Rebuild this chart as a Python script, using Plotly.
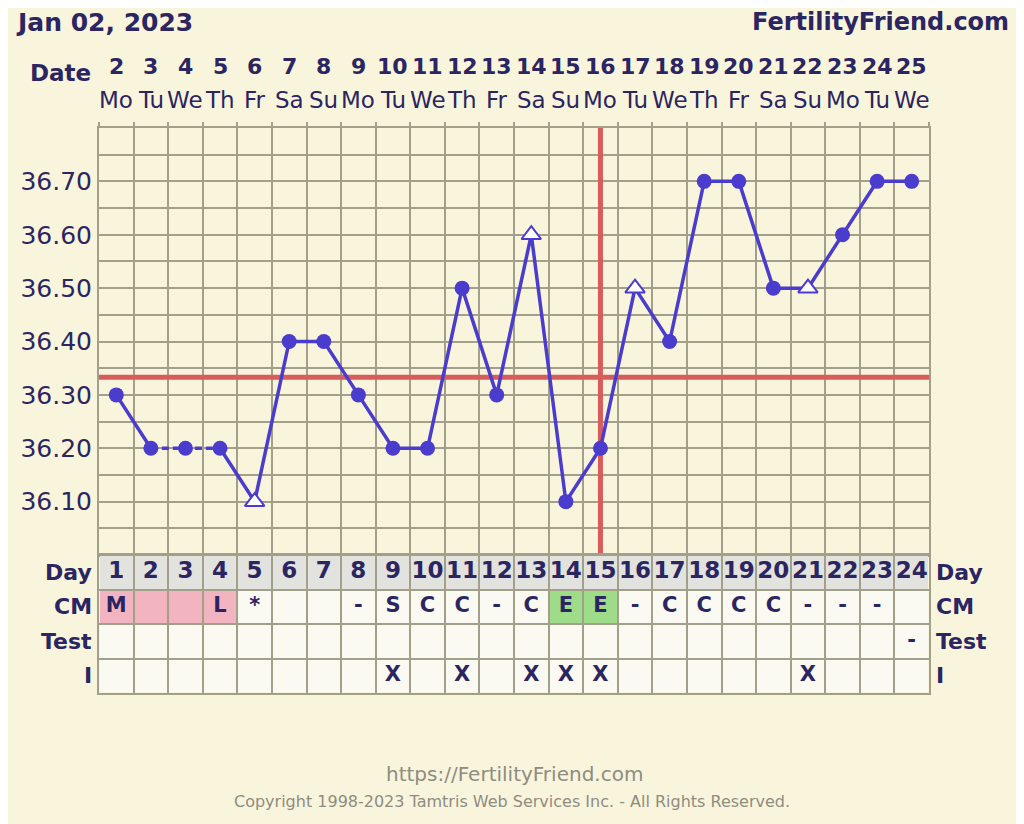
import plotly.graph_objects as go

# chart data
days = list(range(1, 25))
dates = [str(d) for d in range(2, 26)]
weekdays = ['Mo', 'Tu', 'We', 'Th', 'Fr', 'Sa', 'Su'] * 3 + ['Mo', 'Tu', 'We']
temps = [36.30, 36.20, 36.20, 36.20, 36.10, 36.40, 36.40, 36.30, 36.20, 36.20, 36.50, 36.30,
         36.60, 36.10, 36.20, 36.50, 36.40, 36.70, 36.70, 36.50, 36.50, 36.60, 36.70, 36.70]
open_days = [5, 13, 16, 21]          # discarded temps (open triangles)
dashed_days = [2, 3, 4]              # dashed connection
coverline = 36.333
ovulation_day = 15

cm = ['M', '', '', 'L', '*', '', '', '-', 'S', 'C', 'C', '-', 'C', 'E', 'E', '-',
      'C', 'C', 'C', 'C', '-', '-', '-', '']
test = [''] * 23 + ['-']
intercourse_days = [9, 11, 13, 14, 15, 21]
period_days = [1, 2, 3, 4]
eggwhite_days = [14, 15]

temp_ticks = [round(36.0 + 0.05 * i, 2) for i in range(17)]
temp_labels = ['%.2f' % t if (i % 2 == 0 and 0 < i < 16) else '' for i, t in enumerate(temp_ticks)]
row_labels = ['Day', 'CM', 'Test', 'I']

navy = '#2b2561'
blue = '#4a3ccc'
red = '#d95c5c'
grid = '#a29f8b'
bg = '#f9f5dd'
# the page body has an 8px margin, so the figure is a bit smaller and shifted
OFF = 8
W, H = 1024 - OFF, 824 - OFF

def px(pix):
    return (pix - OFF) / W

def py(pix):
    return 1 - (pix - OFF) / H

fig = go.Figure()

# table cell colours
cm_code = [2 if d in period_days else 3 if d in eggwhite_days else 0 for d in days]
z = [[1] * 24, cm_code, [0] * 24, [0] * 24]
fig.add_trace(go.Heatmap(
    x=days, y=[0.5, 1.5, 2.5, 3.5], z=z, xaxis='x2', yaxis='y2',
    zmin=0, zmax=3, showscale=False, xgap=2, ygap=2, hoverinfo='skip',
    colorscale=[[0, '#fbfaf2'], [0.3333, '#e2e2df'], [0.6667, '#f2b4c1'], [1, '#9fdc8a']]))

bold = dict(family='DejaVu Sans', size=23, color=navy, weight='bold')
cell = dict(bold, size=21)
fig.add_trace(go.Scatter(x=days, y=[0.5] * 24, text=[str(d) for d in days], mode='text',
                         textfont=bold, xaxis='x2', yaxis='y2', hoverinfo='skip'))
fig.add_trace(go.Scatter(x=days, y=[1.5] * 24, text=cm, mode='text',
                         textfont=cell, xaxis='x2', yaxis='y2', hoverinfo='skip'))
fig.add_trace(go.Scatter(x=days, y=[2.5] * 24, text=test, mode='text',
                         textfont=cell, xaxis='x2', yaxis='y2', hoverinfo='skip'))
fig.add_trace(go.Scatter(x=days, y=[3.5] * 24, text=['X' if d in intercourse_days else '' for d in days],
                         mode='text', textfont=cell, xaxis='x2', yaxis='y2', hoverinfo='skip'))

# coverline and ovulation line
fig.add_trace(go.Scatter(x=[0.5, 24.5], y=[coverline, coverline], mode='lines',
                         line=dict(color=red, width=5), cliponaxis=False, hoverinfo='skip'))
fig.add_trace(go.Scatter(x=[ovulation_day, ovulation_day], y=[36.0, 36.81], mode='lines',
                         line=dict(color=red, width=5), cliponaxis=False, hoverinfo='skip'))

# temperature line
solid_y = [None if (d in dashed_days[1:-1]) else t for d, t in zip(days, temps)]
fig.add_trace(go.Scatter(x=days, y=solid_y, mode='lines', line=dict(color=blue, width=3.5),
                         connectgaps=False, hoverinfo='skip'))
fig.add_trace(go.Scatter(x=dashed_days, y=[temps[d - 1] for d in dashed_days], mode='lines',
                         line=dict(color=blue, width=3.5, dash='7px,4px'), hoverinfo='skip'))
fig.add_trace(go.Scatter(
    x=days, y=temps, mode='markers', cliponaxis=False,
    marker=dict(
        opacity=1,
        symbol=['triangle-up' if d in open_days else 'circle' for d in days],
        size=[17 if d in open_days else 15 for d in days],
        color=['#ffffff' if d in open_days else blue for d in days],
        line=dict(color=blue, width=[2 if d in open_days else 0 for d in days]))))

xdom = [px(99), px(929)]
axis_common = dict(showline=True, mirror=True, linecolor=grid, linewidth=2,
                   showgrid=True, gridcolor=grid, gridwidth=2, zeroline=False)
tick_font = dict(family='DejaVu Sans', size=25, color=navy)

fig.update_layout(
    width=W, height=H, showlegend=False,
    paper_bgcolor=bg, plot_bgcolor=bg,
    margin=dict(l=0, r=0, t=0, b=0),
    xaxis=dict(axis_common, domain=xdom, range=[0.5, 24.5], anchor='y', side='top',
               tickvals=[d + 0.5 for d in range(25)], showticklabels=False,
               ticks='outside', ticklen=4, tickwidth=2, tickcolor=grid),
    yaxis=dict(axis_common, domain=[py(555), py(128)], range=[36.0, 36.8],
               tickvals=temp_ticks, ticktext=temp_labels, tickfont=tick_font, ticks=''),
    yaxis3=dict(domain=[py(555), py(128)], range=[36.0, 36.8], overlaying='y', side='right',
                anchor='x', tickvals=temp_ticks, ticktext=temp_labels, tickfont=tick_font,
                showgrid=False, zeroline=False, ticks=''),
    xaxis2=dict(axis_common, domain=xdom, range=[0.5, 24.5], anchor='y2', matches='x',
                tickvals=[d + 0.5 for d in range(25)], showticklabels=False),
    yaxis2=dict(axis_common, domain=[py(693), py(555)], range=[4, 0], anchor='x2',
                tickvals=[0, 1, 2, 3, 4], showticklabels=False),
)

ann = []
for d, date, wd in zip(days, dates, weekdays):
    ann.append(dict(x=d, y=py(67), xref='x', yref='paper', text=date,
                    font=dict(family='DejaVu Sans', size=22, color=navy, weight='bold')))
    ann.append(dict(x=d, y=py(100), xref='x', yref='paper', text=wd,
                    font=dict(family='DejaVu Sans', size=23, color=navy)))
ann.append(dict(x=px(93), y=py(73), xref='paper', yref='paper', text='Date',
                xanchor='right', font=dict(family='DejaVu Sans', size=23, color=navy, weight='bold')))
ann.append(dict(x=px(14), y=py(22), xref='paper', yref='paper', text='Jan 02, 2023',
                xanchor='left', font=dict(family='DejaVu Sans', size=25, color=navy, weight='bold')))
ann.append(dict(x=px(1011), y=py(22), xref='paper', yref='paper', text='FertilityFriend.com',
                xanchor='right', font=dict(family='DejaVu Sans', size=24, color=navy, weight='bold')))
for i, lab in enumerate(row_labels):
    f = dict(family='DejaVu Sans', size=22, color=navy, weight='bold')
    ann.append(dict(x=px(94), y=i + 0.5, xref='paper', yref='y2', text=lab,
                    xanchor='right', font=f))
    ann.append(dict(x=px(934), y=i + 0.5, xref='paper', yref='y2', text=lab,
                    xanchor='left', font=f))
ann.append(dict(x=px(514), y=py(774), xref='paper', yref='paper', text='https://FertilityFriend.com',
                font=dict(family='DejaVu Sans', size=20, color='#8f8c80')))
ann.append(dict(x=px(512), y=py(801), xref='paper', yref='paper',
                text='Copyright 1998-2023 Tamtris Web Services Inc. - All Rights Reserved.',
                font=dict(family='DejaVu Sans', size=16, color='#8f8c80')))
for a in ann:
    a.setdefault('xanchor', 'center')
    a['yanchor'] = 'middle'
    a['showarrow'] = False
fig.update_layout(annotations=ann)

fig.write_html("out.html")
